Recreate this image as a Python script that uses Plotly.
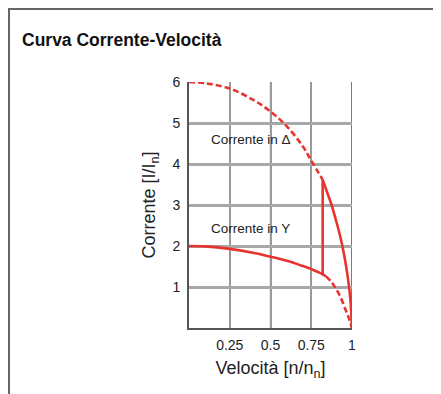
import plotly.graph_objects as go

# ---- data ----
y_conn_solid_x = [0.0, 0.1, 0.25, 0.4, 0.5, 0.6, 0.7, 0.75, 0.8, 0.82, 0.84]
y_conn_solid_y = [2.0, 1.99, 1.93, 1.83, 1.74, 1.64, 1.51, 1.44, 1.35, 1.31, 1.26]
y_conn_dash_x = [0.84, 0.87, 0.9, 0.93, 0.96, 0.98, 1.0]
y_conn_dash_y = [1.26, 1.14, 0.97, 0.75, 0.45, 0.25, 0.0]

d_conn_dash_x = [0.0, 0.1, 0.25, 0.4, 0.5, 0.6, 0.7, 0.75, 0.82]
d_conn_dash_y = [6.0, 5.97, 5.84, 5.55, 5.28, 4.92, 4.42, 4.08, 3.62]
d_conn_solid_x = [0.82, 0.85, 0.875, 0.9, 0.925, 0.95, 0.97, 0.99, 1.0]
d_conn_solid_y = [3.62, 3.28, 3.0, 2.65, 2.28, 1.82, 1.35, 0.7, 0.0]

switch_x = [0.82, 0.82]
switch_y = [1.31, 3.62]

x_ticks = [0.25, 0.5, 0.75, 1]
x_tick_labels = ["0.25", "0.5", "0.75", "1"]
y_ticks = [1, 2, 3, 4, 5, 6]
y_tick_labels = ["1", "2", "3", "4", "5", "6"]
dark_vlines = [0.25, 0.5, 1]

labels = ["Corrente in Δ", "Corrente in Y"]
label_x = [0.38, 0.38]
label_y = [4.6, 2.42]

title = "Curva Corrente-Velocità"
x_title = "Velocità [n/n<sub>n</sub>]"
y_title = "Corrente [I/I<sub>n</sub>]"

# ---- layout geometry (page has an 8px body margin) ----
OFF = 8
W, H = 441, 394
L = 189 - OFF
T = 82 - OFF
R = W - (352 - OFF)
B = H - (328 - OFF)
pw, ph = W - L - R, H - T - B

def px_x(p):
    return (p - OFF - L) / pw

def px_y(p):
    return 1 - (p - OFF - T) / ph

RED = "#e8342f"
FONT = "Liberation Sans Narrow, Liberation Sans, Arial, sans-serif"

fig = go.Figure()
line_w = 2.6
fig.add_trace(go.Scatter(x=y_conn_solid_x, y=y_conn_solid_y, mode="lines",
                         line=dict(color=RED, width=line_w, shape="spline"), showlegend=False))
fig.add_trace(go.Scatter(x=y_conn_dash_x, y=y_conn_dash_y, mode="lines",
                         line=dict(color=RED, width=line_w, dash="6px,3px", shape="spline"), showlegend=False))
fig.add_trace(go.Scatter(x=d_conn_dash_x, y=d_conn_dash_y, mode="lines",
                         line=dict(color=RED, width=line_w, dash="6px,3px", shape="spline"), showlegend=False))
fig.add_trace(go.Scatter(x=d_conn_solid_x, y=d_conn_solid_y, mode="lines",
                         line=dict(color=RED, width=line_w, shape="spline"), showlegend=False))
fig.add_trace(go.Scatter(x=switch_x, y=switch_y, mode="lines",
                         line=dict(color=RED, width=line_w), showlegend=False))

for t, lx, ly in zip(labels, label_x, label_y):
    fig.add_annotation(x=lx, y=ly, text=t, showarrow=False,
                       font=dict(family=FONT, size=13.5, color="#222"),
                       xanchor="center", yanchor="middle")

shapes = []
for v in dark_vlines:
    shapes.append(dict(type="line", xref="x", yref="paper", x0=v, x1=v, y0=0, y1=1,
                       line=dict(color="#222", width=1.2), layer="below"))
# frame (page pixels; the figure starts at page 8,8)
shapes.append(dict(type="line", xref="paper", yref="paper",
                   x0=px_x(9), x1=px_x(9), y0=px_y(9), y1=px_y(420),
                   line=dict(color="#666", width=2)))
shapes.append(dict(type="line", xref="paper", yref="paper",
                   x0=px_x(8), x1=px_x(460), y0=px_y(9), y1=px_y(9),
                   line=dict(color="#666", width=2)))

fig.update_layout(
    width=W, height=H,
    margin=dict(l=L, r=R, t=T, b=B, pad=0),
    paper_bgcolor="white", plot_bgcolor="white",
    shapes=shapes,
    title=dict(text="<b>" + title + "</b>", x=(22 - OFF) / W, xanchor="left", xref="container",
               y=1 - (40 - OFF) / H, yanchor="middle", yref="container",
               font=dict(family=FONT, size=17.5, color="#111")),
    font=dict(family=FONT, color="#222"),
)
fig.update_xaxes(range=[0, 1], tickvals=x_ticks, ticktext=x_tick_labels,
                 showgrid=True, gridcolor="#9a9a9a", gridwidth=1.5,
                 showline=True, linecolor="#555", linewidth=2,
                 ticks="outside", ticklen=3, tickcolor="rgba(0,0,0,0)",
                 tickfont=dict(family=FONT, size=14, color="#222"),
                 zeroline=False, fixedrange=True,
                 title=dict(text=x_title, font=dict(family=FONT, size=18, color="#222"), standoff=10))
fig.update_yaxes(range=[0, 6], tickvals=y_ticks, ticktext=y_tick_labels,
                 showgrid=True, gridcolor="#a8a8a8", gridwidth=2.5,
                 showline=True, linecolor="#555", linewidth=2,
                 ticks="outside", ticklen=4, tickcolor="rgba(0,0,0,0)",
                 tickfont=dict(family=FONT, size=14, color="#222"),
                 zeroline=False, fixedrange=True,
                 title=dict(text=y_title, font=dict(family=FONT, size=18, color="#222"), standoff=12))

fig.write_html("out.html")
